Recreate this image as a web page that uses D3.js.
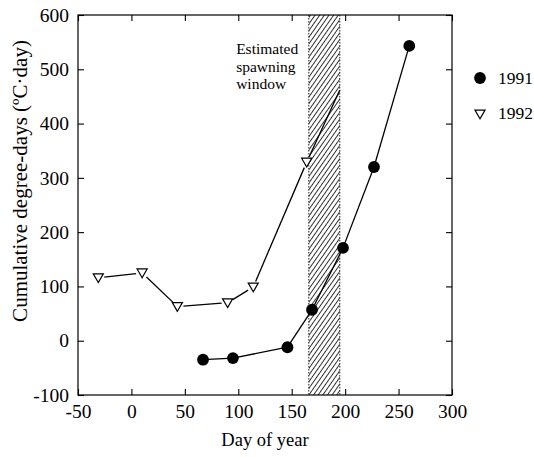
<!DOCTYPE html>
<html>
<head>
<meta charset="utf-8">
<script src="https://cdn.jsdelivr.net/npm/d3@7/dist/d3.min.js"></script>
<style>
  html, body { margin: 0; padding: 0; background: #fff; }
  svg { display: block; font-family: "Liberation Serif", "DejaVu Serif", serif; }
</style>
</head>
<body>
<div id="vis"></div>
<script>
// chart data
const days1991 = [67, 95, 146, 169, 198, 227, 260];
const dd1991   = [-35, -32, -12, 57, 171, 320, 543];
const days1992 = [-31, 10, 43, 90, 114, 164, 195];
const dd1992   = [116, 125, 63, 70, 99, 329, 462];
const marked1992 = [true, true, true, true, true, true, false];
const spawnWindow = [166, 195];
const xTicks = [-50, 0, 50, 100, 150, 200, 250, 300];
const yTicks = [-100, 0, 100, 200, 300, 400, 500, 600];
const legendLabels = ['1991', '1992'];
const noteLines = ['Estimated', 'spawning', 'window'];

const W = 534, H = 457;
const m = { left: 78, right: 82, top: 15, bottom: 62 };
const iw = W - m.left - m.right, ih = H - m.top - m.bottom;
const ink = '#000';

const svg = d3.select('#vis').append('svg')
  .attr('width', W).attr('height', H);

const defs = svg.append('defs');
const pat = defs.append('pattern')
  .attr('id', 'hatch').attr('patternUnits', 'userSpaceOnUse')
  .attr('width', 3.8).attr('height', 8)
  .attr('patternTransform', 'rotate(35)');
pat.append('line').attr('x1', 0).attr('y1', 0).attr('x2', 0).attr('y2', 8)
  .attr('stroke', '#111').attr('stroke-width', 1.7);

const g = svg.append('g').attr('transform', `translate(${m.left},${m.top})`);

const x = d3.scaleLinear().domain([-50, 300]).range([0, iw]);
const y = d3.scaleLinear().domain([-100, 600]).range([ih, 0]);
const plain = d => String(d);

// spawning window
const wx0 = x(spawnWindow[0]), wx1 = x(spawnWindow[1]);
g.append('rect').attr('x', wx0).attr('y', 0)
  .attr('width', wx1 - wx0).attr('height', ih)
  .attr('fill', 'url(#hatch)');
[wx0, wx1].forEach(v => g.append('line')
  .attr('x1', v).attr('x2', v).attr('y1', 0).attr('y2', ih)
  .attr('stroke', '#222').attr('stroke-width', 1).attr('stroke-dasharray', '1.5,1.5'));

// axes with inward ticks on all sides
const tl = 6;
g.append('g').attr('transform', `translate(0,${ih})`)
  .call(d3.axisBottom(x).tickValues(xTicks).tickFormat(plain).tickSizeInner(-tl).tickSizeOuter(0).tickPadding(12))
  .call(a => a.selectAll('.tick text').attr('dy', '0.55em'));
g.append('g')
  .call(d3.axisTop(x).tickValues(xTicks).tickSizeInner(-tl).tickSizeOuter(0).tickFormat(''));
g.append('g')
  .call(d3.axisLeft(y).tickValues(yTicks).tickFormat(plain).tickSizeInner(-tl).tickSizeOuter(0).tickPadding(9));
g.append('g').attr('transform', `translate(${iw},0)`)
  .call(d3.axisRight(y).tickValues(yTicks).tickSizeInner(-tl).tickSizeOuter(0).tickFormat(''));
g.selectAll('.domain').remove();
g.selectAll('.tick line').attr('stroke', ink).attr('stroke-width', 1.1);
g.selectAll('.tick text').attr('font-family', '"Liberation Serif", serif')
  .attr('font-size', 19.5).attr('fill', ink);
g.append('rect').attr('width', iw).attr('height', ih)
  .attr('fill', 'none').attr('stroke', ink).attr('stroke-width', 1.2);

// line segments, trimmed near open markers
function segs(xs, ys, trimStart, trimEnd) {
  const out = [];
  for (let i = 0; i < xs.length - 1; i++) {
    const ax = x(xs[i]), ay = y(ys[i]), bx = x(xs[i + 1]), by = y(ys[i + 1]);
    const len = Math.hypot(bx - ax, by - ay);
    const ux = (bx - ax) / len, uy = (by - ay) / len;
    const s = trimStart[i] ? 6 : 0, e = trimEnd[i + 1] ? 6 : 0;
    out.push([ax + ux * s, ay + uy * s, bx - ux * e, by - uy * e]);
  }
  return out;
}
const none = days1991.map(() => false);
const lineG = g.append('g').attr('stroke', ink).attr('stroke-width', 1.3);
segs(days1991, dd1991, none, none).concat(segs(days1992, dd1992, marked1992, marked1992))
  .forEach(s => lineG.append('line')
    .attr('x1', s[0]).attr('y1', s[1]).attr('x2', s[2]).attr('y2', s[3]));

const tri = d3.symbol().type(d3.symbolTriangle).size(44);
g.selectAll('.m92').data(days1992.filter((d, i) => marked1992[i]))
  .enter().append('path')
  .attr('d', tri)
  .attr('transform', (d, i) => `translate(${x(d)},${y(dd1992[i]) - 1}) rotate(180)`)
  .attr('fill', '#fff').attr('stroke', ink).attr('stroke-width', 1.2);

g.selectAll('.m91').data(days1991).enter().append('circle')
  .attr('cx', d => x(d)).attr('cy', (d, i) => y(dd1991[i])).attr('r', 5.9)
  .attr('fill', ink);

// annotation, one text per line
noteLines.forEach((t, i) => g.append('text')
  .attr('font-size', 15.5).attr('fill', ink)
  .attr('x', x(98)).attr('y', y(528) + i * 17.5).text(t));

// legend
const lg = svg.append('g').attr('transform', `translate(480,78)`);
lg.append('circle').attr('r', 5.9).attr('fill', ink);
lg.append('path').attr('d', tri)
  .attr('transform', 'translate(0,35) rotate(180)')
  .attr('fill', '#fff').attr('stroke', ink).attr('stroke-width', 1.2);
legendLabels.forEach((t, i) => lg.append('text')
  .attr('x', 18).attr('y', i * 35).attr('dy', '0.35em')
  .attr('font-size', 17.5).attr('fill', ink).text(t));

// axis titles
svg.append('text').attr('x', m.left + iw / 2).attr('y', 446)
  .attr('text-anchor', 'middle').attr('font-size', 18.5).attr('fill', ink)
  .text('Day of year');
svg.append('text')
  .attr('transform', `translate(20,${m.top + 166}) rotate(-90)`)
  .attr('text-anchor', 'middle').attr('dy', '0.35em')
  .attr('font-size', 21).attr('fill', ink)
  .text('Cumulative degree-days (ºC·day)');
</script>
</body>
</html>
